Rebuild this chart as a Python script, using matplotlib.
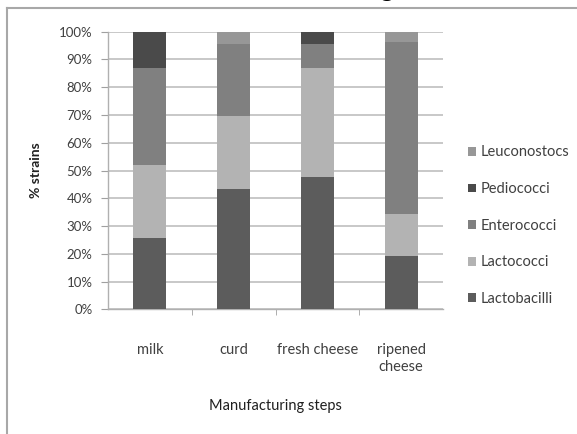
import numpy as np
import matplotlib.pyplot as plt
from matplotlib.lines import Line2D

# Manufacturing steps (categories)
steps = ["milk", "curd", "fresh cheese", "ripened\ncheese"]

# % strains per group
lactobacilli = [25.8, 43.2, 47.8, 19.2]
lactococci = [26.2, 26.4, 39.2, 15.0]
enterococci = [35.0, 25.8, 8.4, 62.2]
pediococci = [13.0, 0.0, 4.6, 0.0]
leuconostocs = [0.0, 4.6, 0.0, 3.6]

series = [
    ("Lactobacilli", lactobacilli, "#5c5c5c"),
    ("Lactococci", lactococci, "#b3b3b3"),
    ("Enterococci", enterococci, "#808080"),
    ("Pediococci", pediococci, "#4a4a4a"),
    ("Leuconostocs", leuconostocs, "#979797"),
]

plt.rcParams["font.family"] = ["Lato", "DejaVu Sans"]

fig = plt.figure(figsize=(5.77, 4.34), dpi=100)
ax = fig.add_axes([0.187, 0.287, 0.581, 0.640])

x = np.arange(len(steps))
bottom = np.zeros(len(steps))
handles = []
for name, vals, col in series:
    b = ax.bar(x, vals, width=0.39, bottom=bottom, color=col, label=name, zorder=3)
    handles.append(b)
    bottom += np.array(vals)

ax.set_xlim(-0.5, 3.5)
ax.set_ylim(0, 100)
ax.set_yticks(np.arange(0, 101, 10))
ax.set_yticklabels([f"{v}%" for v in range(0, 101, 10)])
ax.yaxis.grid(True, color="#c4c4c4", linewidth=1.3, zorder=0)

# category labels centred, tick marks on the boundaries
ax.set_xticks(x)
ax.set_xticklabels(steps, fontsize=10.5, color="#404040", linespacing=1.25)
ax.tick_params(axis="x", length=0, pad=24)
ax.set_xticks([0.5, 1.5, 2.5], minor=True)
ax.tick_params(axis="x", which="minor", length=4, color="#a0a0a0", direction="out")
ax.tick_params(axis="y", length=5, color="#a0a0a0", labelsize=9.5, labelcolor="#404040", pad=6)

for s in ["top", "right"]:
    ax.spines[s].set_visible(False)
for s in ["left", "bottom"]:
    ax.spines[s].set_color("#b0b0b0")
    ax.spines[s].set_linewidth(1.0)

ax.set_xlabel("Manufacturing steps", fontsize=10.5, color="#202020", labelpad=18)
ax.set_ylabel("% strains", fontsize=10, color="#202020", labelpad=12, fontweight="bold")

leg = fig.legend(handles[::-1], [s[0] for s in series][::-1],
                 loc="center left", bbox_to_anchor=(0.798, 0.48),
                 frameon=False, fontsize=10.5, labelspacing=1.55,
                 handlelength=0.55, handleheight=0.55, handletextpad=0.35,
                 borderpad=0)
for t in leg.get_texts():
    t.set_color("#404040")

# outer frame of the chart area (cropped at top and right)
fig.add_artist(Line2D([7 / 577, 1.0], [1 - 8 / 434, 1 - 8 / 434],
                      transform=fig.transFigure, color="#a8a8a8", linewidth=1.5))
fig.add_artist(Line2D([7 / 577, 7 / 577], [0.0, 1 - 8 / 434],
                      transform=fig.transFigure, color="#a8a8a8", linewidth=1.5))

# bottom of the clipped title
fig.text(0.657, 1.01, "g", fontsize=20, color="black", va="baseline", ha="left")

fig.savefig("out.png", dpi=100)
